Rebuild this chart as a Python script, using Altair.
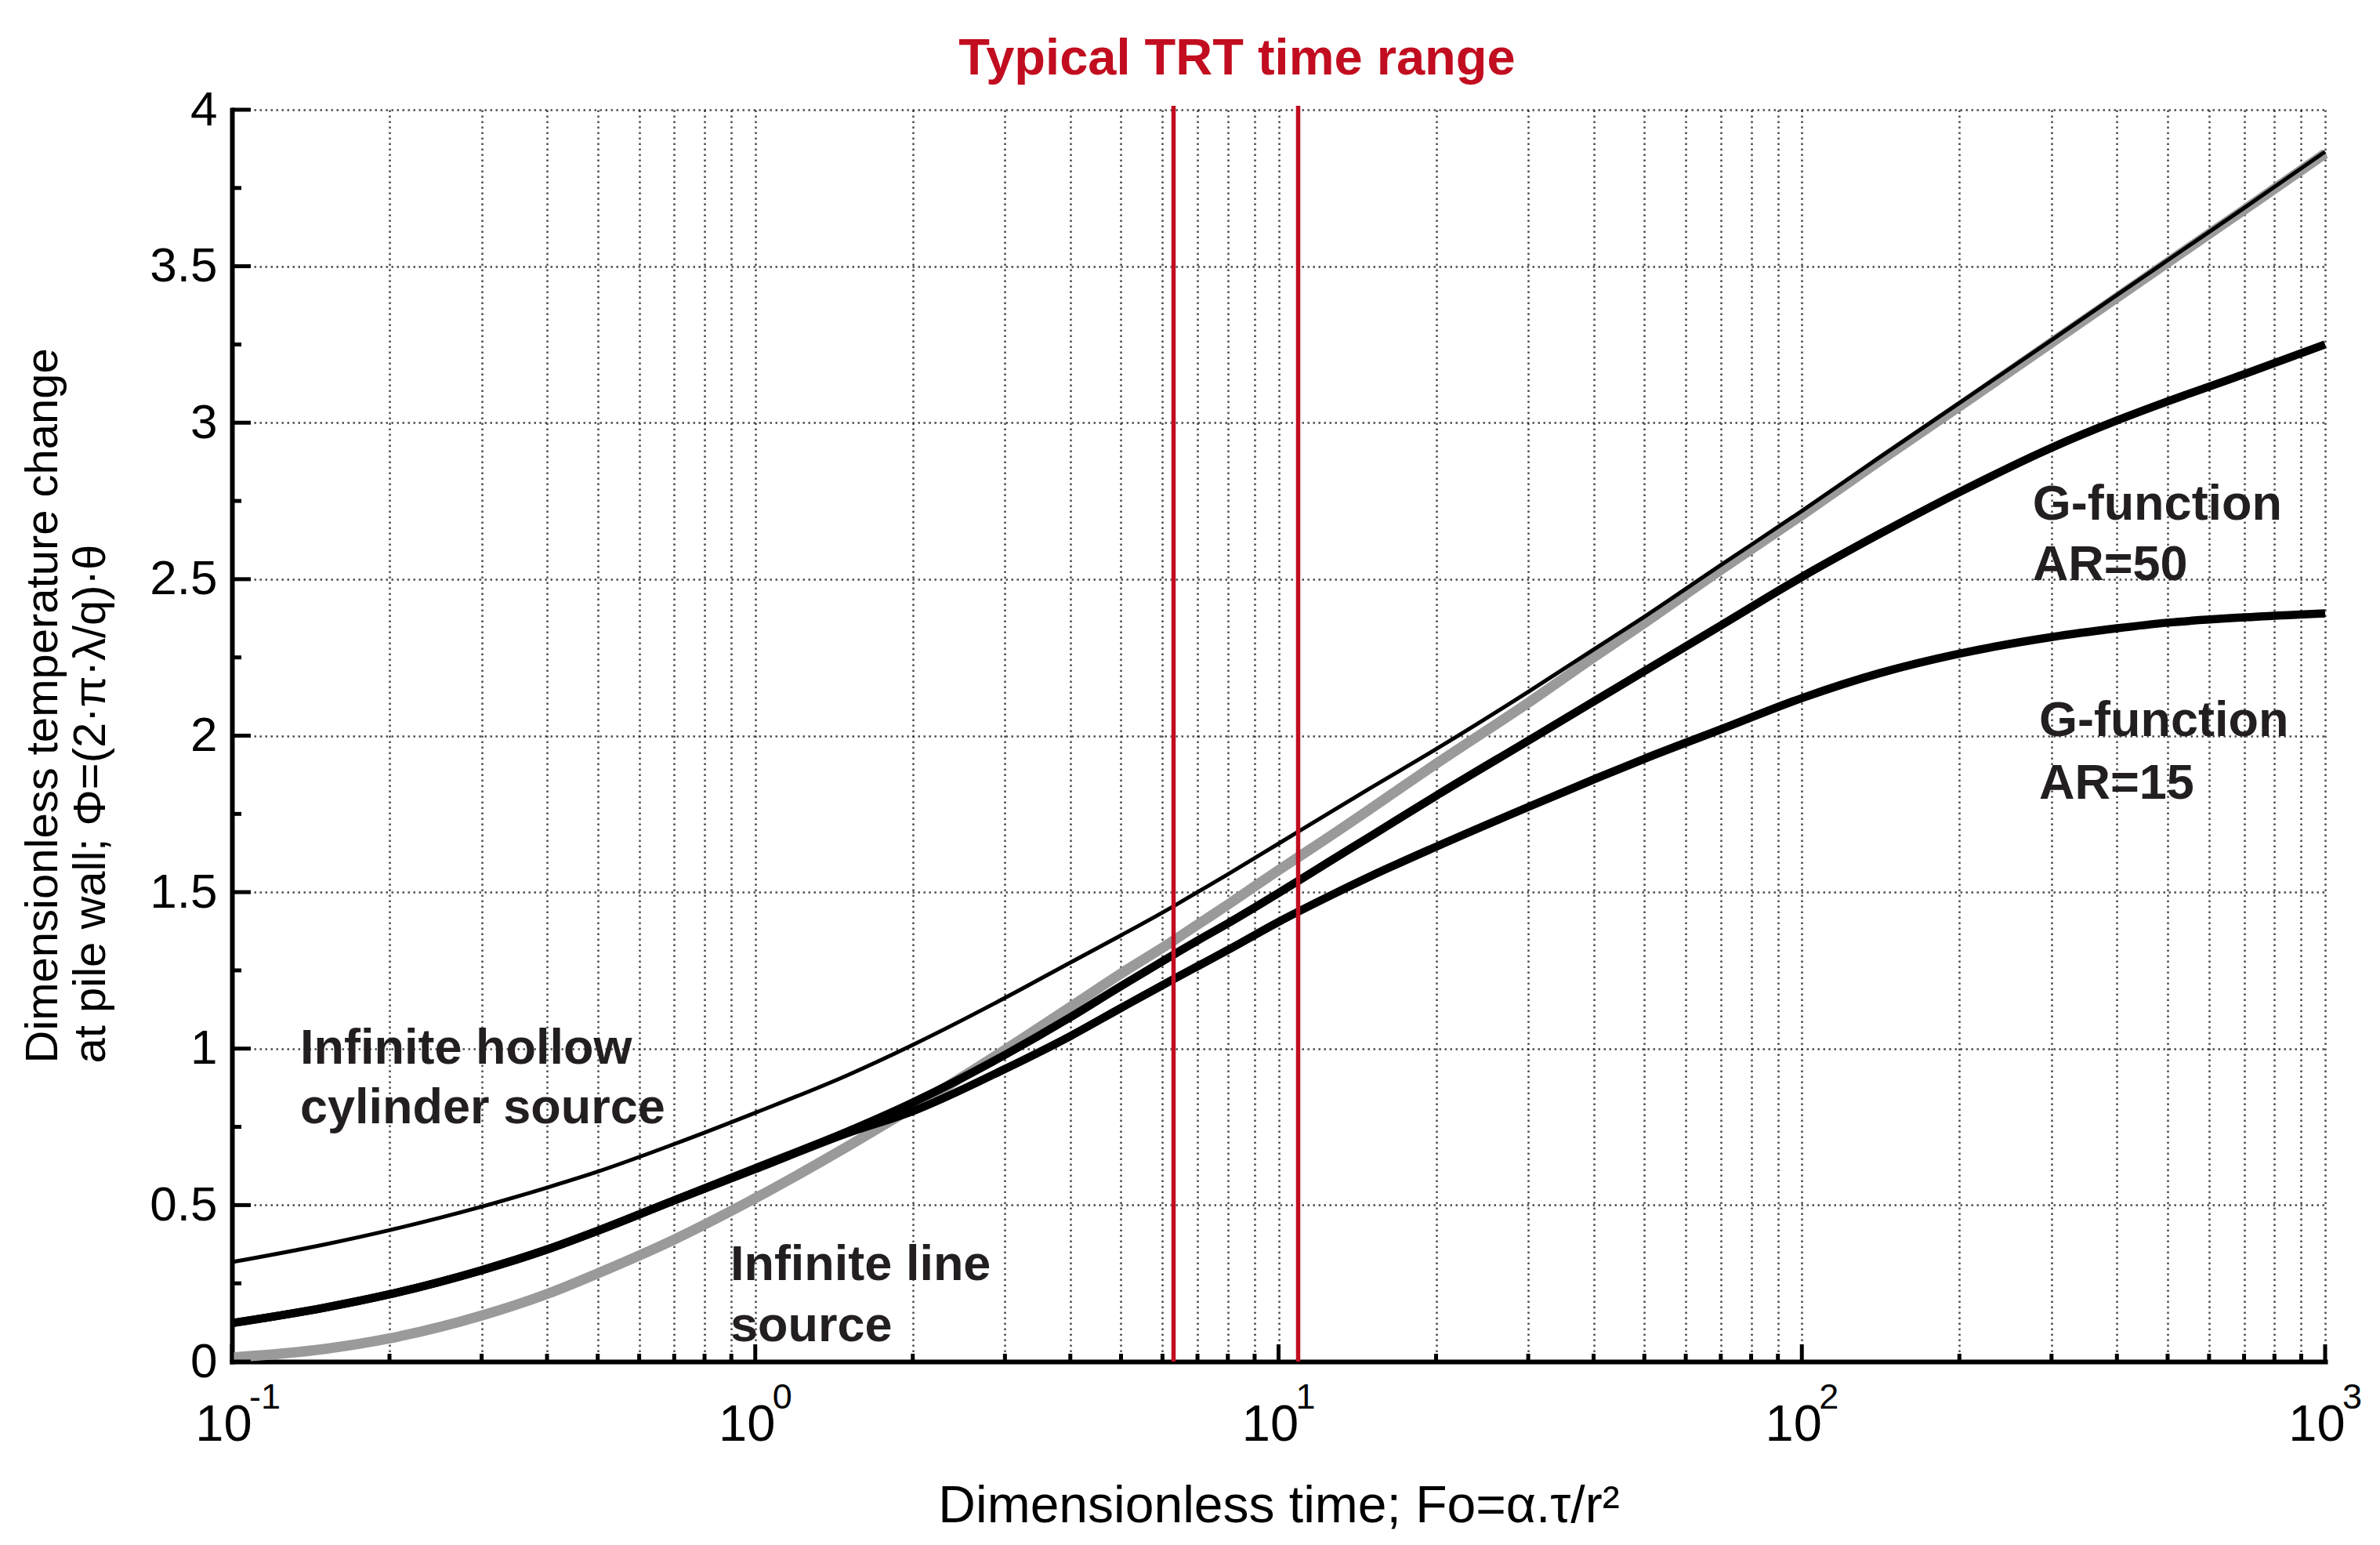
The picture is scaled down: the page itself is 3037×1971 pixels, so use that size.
import altair as alt
import pandas as pd

# ---------------- data ----------------
FO = [0.1, 0.15, 0.2, 0.3, 0.4, 0.5, 0.7, 1, 1.5, 2, 3, 4, 5, 6.3, 7, 8, 10, 12.6, 15,
      20, 30, 40, 50, 70, 100, 141, 200, 300, 400, 500, 700, 1000]

# Infinite line source (grey)
ILS = [0.013, 0.040, 0.074, 0.147, 0.216, 0.282, 0.390, 0.522, 0.687, 0.812, 0.996,
       1.133, 1.240, 1.345, 1.396, 1.460, 1.570, 1.681, 1.767, 1.910, 2.105, 2.250,
       2.360, 2.530, 2.705, 2.879, 3.052, 3.256, 3.400, 3.512, 3.680, 3.860]

# Infinite hollow cylinder source (thin black)
IHCS = [0.318, 0.374, 0.420, 0.495, 0.556, 0.607, 0.695, 0.795, 0.915, 1.012, 1.162,
        1.275, 1.362, 1.455, 1.500, 1.557, 1.655, 1.757, 1.833, 1.957, 2.140, 2.275,
        2.380, 2.545, 2.718, 2.890, 3.063, 3.264, 3.408, 3.519, 3.686, 3.866]

# G-function AR=50
G50 = [0.123, 0.172, 0.215, 0.292, 0.358, 0.418, 0.515, 0.618, 0.735, 0.828, 0.980,
       1.100, 1.200, 1.300, 1.345, 1.400, 1.497, 1.601, 1.679, 1.808, 1.984, 2.109,
       2.206, 2.352, 2.507, 2.645, 2.778, 2.920, 3.007, 3.068, 3.155, 3.250]

# G-function AR=15
G15 = [0.123, 0.172, 0.215, 0.292, 0.358, 0.418, 0.515, 0.615, 0.730, 0.800, 0.935,
       1.040, 1.130, 1.222, 1.263, 1.315, 1.405, 1.490, 1.551, 1.645, 1.772, 1.860,
       1.926, 2.020, 2.120, 2.200, 2.262, 2.315, 2.343, 2.361, 2.378, 2.391]

TRT_RANGE = [6.3, 10.9]
TRT_TITLE = ["Typical TRT time range"]
TRT_TITLE_FO = [8.33]
TRT_TITLE_PHI = [4.113]

DECADES = [0.1, 1, 10, 100, 1000]
EXPONENTS = ["-1", "0", "1", "2", "3"]
MINOR_MULT = [2, 3, 4, 5, 6, 7, 8, 9]
Y_MAJOR = [0, 0.5, 1, 1.5, 2, 2.5, 3, 3.5, 4]
Y_MINOR = [0.25, 0.75, 1.25, 1.75, 2.25, 2.75, 3.25, 3.75]

ANN_TEXT = ["Infinite hollow", "cylinder source", "Infinite line", "source",
            "G-function", "AR=50", "G-function", "AR=15"]
ANN_FO = [0.135, 0.135, 0.896, 0.896, 276, 276, 284, 284]
ANN_PHI = [0.952, 0.761, 0.260, 0.065, 2.690, 2.497, 1.999, 1.798]

X_TITLE = "Dimensionless time; Fo=α.τ/r²"
Y_TITLE = ["Dimensionless temperature change", "at pile wall; Φ=(2·π·λ/q)·θ"]

# ---------------- layout / style ----------------
W, H = 2671, 1597
FONT = "Liberation Sans, Arial, Helvetica, sans-serif"
NARROW = "Liberation Sans Narrow, Arial Narrow, Liberation Sans, Arial, sans-serif"
RED = "#c10d1f"
TEXT_DARK = "#231f20"
GRID = dict(grid=True, gridColor="#1e1e1e", gridDash=[2.5, 4.5], gridWidth=2.5,
            gridOpacity=0.8)

MINOR = [m * d for d in DECADES[:-1] for m in MINOR_MULT]
XGRID = DECADES + MINOR

curves = pd.DataFrame({"fo": FO, "ils": ILS, "ihcs": IHCS, "g50": G50, "g15": G15})
xmaj = pd.DataFrame({"fo": DECADES, "exp": EXPONENTS})
xmin = pd.DataFrame({"fo": MINOR})
ymaj = pd.DataFrame({"phi": Y_MAJOR})
ymin = pd.DataFrame({"phi": Y_MINOR})
ann = pd.DataFrame({"text": ANN_TEXT, "fo": ANN_FO, "phi": ANN_PHI})
trt = pd.DataFrame({"fo": TRT_RANGE})
ttl = pd.DataFrame({"text": TRT_TITLE, "fo": TRT_TITLE_FO, "phi": TRT_TITLE_PHI})

xscale = alt.Scale(type="log", domain=[0.1, 1000])
yscale = alt.Scale(domain=[0, 4])

xaxis = alt.Axis(
    values=XGRID, ticks=False, tickSize=0, domain=True, domainColor="black",
    domainWidth=6, domainCap="square",
    labelExpr="abs(log(datum.value)/LN10 - round(log(datum.value)/LN10)) < 0.001 ? '10' : ''",
    labelFont=NARROW, labelFontSize=65, labelColor="black", labelPadding=100,
    labelBaseline="alphabetic", labelOffset=-11, labelFlush=False, labelOverlap=False,
    title=X_TITLE, titleFont=FONT, titleFontSize=66, titleFontWeight="normal",
    titleColor="black", titleBaseline="alphabetic", titleY=204, **GRID)

yaxis = alt.Axis(
    values=Y_MAJOR, ticks=False, tickSize=0, domain=True, domainColor="black",
    domainWidth=6, domainCap="square", format="~g",
    labelFont=FONT, labelFontSize=62, labelColor="black", labelPadding=19,
    labelOverlap=False,
    title=Y_TITLE, titleFont=FONT, titleFontSize=58, titleFontWeight="normal",
    titleColor="black", titleAngle=270, titleAlign="left", titleBaseline="alphabetic",
    titleX=-224, titleY=1216, titleLineHeight=61, **GRID)


def X():
    return alt.X("fo:Q", scale=xscale, axis=xaxis)


def Y(field):
    return alt.Y(f"{field}:Q", scale=yscale, axis=yaxis)


def curve(field, color, width):
    return alt.Chart(curves).mark_line(color=color, strokeWidth=width,
                                       interpolate="monotone", strokeCap="butt").encode(
        x=X(), y=Y(field))


ils_line = curve("ils", "#9a9a9a", 13)
g15_line = curve("g15", "black", 10.5)
g50_line = curve("g50", "black", 10.5)
ihcs_line = curve("ihcs", "black", 5)

red_lines = alt.Chart(trt).mark_rule(color=RED, strokeWidth=5.5).encode(
    x=X(), y=alt.value(-5), y2=alt.value(H))

xt_major = alt.Chart(xmaj).mark_rule(color="black", strokeWidth=5).encode(
    x=X(), y=alt.value(H), y2=alt.value(H - 22))
xt_minor = alt.Chart(xmin).mark_rule(color="black", strokeWidth=5).encode(
    x=X(), y=alt.value(H), y2=alt.value(H - 10))
yt_major = alt.Chart(ymaj).mark_rule(color="black", strokeWidth=5).encode(
    y=Y("phi"), x=alt.value(0), x2=alt.value(24))
yt_minor = alt.Chart(ymin).mark_rule(color="black", strokeWidth=5).encode(
    y=Y("phi"), x=alt.value(0), x2=alt.value(12))

exps = alt.Chart(xmaj).mark_text(align="left", baseline="alphabetic", font=NARROW,
                                 fontSize=45, color="black", dx=22).encode(
    x=X(), y=alt.value(H + 60), text="exp:N")

labels = alt.Chart(ann).mark_text(align="left", baseline="alphabetic", font=FONT,
                                  fontSize=63, fontWeight="bold", color=TEXT_DARK).encode(
    x=X(), y=Y("phi"), text="text:N")

title = alt.Chart(ttl).mark_text(align="center", baseline="alphabetic", font=FONT,
                                 fontSize=65, fontWeight="bold", color=RED).encode(
    x=X(), y=Y("phi"), text="text:N")

chart = alt.layer(
    ils_line, g15_line, g50_line, ihcs_line, red_lines,
    xt_major, xt_minor, yt_major, yt_minor, exps, labels, title
).properties(
    width=W, height=H,
    autosize=alt.AutoSizeParams(type="none"),
    padding={"left": 288, "top": 132, "right": 50, "bottom": 218},
    background="white",
).configure_view(stroke=None)

chart.save("out.html", embed_options={"renderer": "svg", "actions": False})
